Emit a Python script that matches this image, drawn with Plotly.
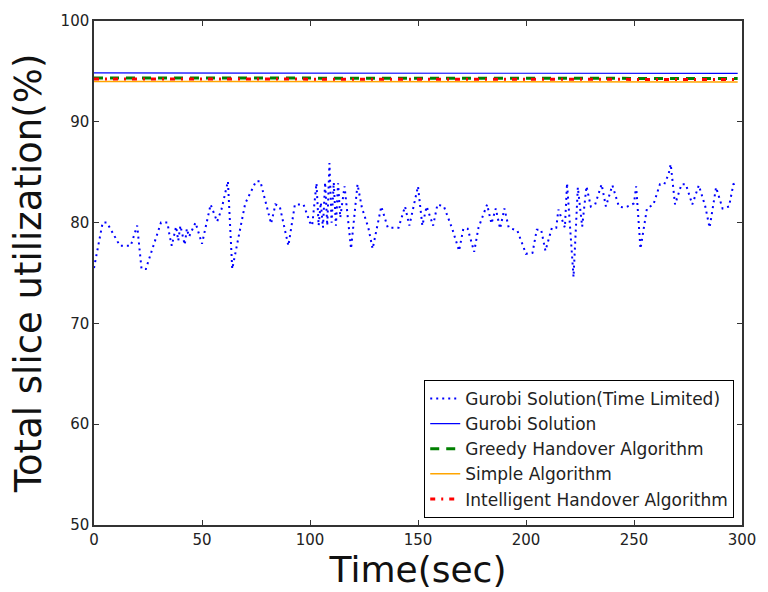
import plotly.graph_objects as go

# ---- data ----
t_limited = [0, 4, 6, 12, 17, 20, 22, 24, 31, 34, 35, 36, 38, 39, 40, 42, 43, 44, 47, 50,
             54, 57, 59, 62, 64, 70, 75, 77, 82, 84, 86, 90, 93, 97, 100, 101, 103, 104,
             105, 106, 107, 108, 109, 110, 111, 112, 113, 114, 116, 119, 122, 124, 127,
             129, 133, 136, 141, 144, 146, 150, 152, 154, 157, 159, 162, 166, 169, 171,
             173, 176, 178, 182, 184, 186, 188, 190, 192, 196, 200, 203, 205, 207, 209,
             212, 214, 215, 218, 219, 222, 224, 226, 228, 230, 232, 235, 237, 240, 243,
             245, 247, 250, 251, 253, 256, 259, 262, 264, 266, 267, 269, 272, 274, 277,
             280, 283, 285, 288, 291, 294, 296, 298]
v_limited = [75.5, 80.0, 80.0, 77.7, 77.7, 79.7, 75.4, 75.4, 80.0, 80.0, 78.7, 77.7, 79.6,
             78.2, 79.7, 77.8, 79.4, 78.6, 80.0, 77.9,
             81.8, 80.1, 81.3, 84.1, 75.4, 81.9, 84.1, 84.1, 79.9, 81.8, 81.6, 77.7, 81.8,
             81.8, 80.0, 79.7, 83.9, 79.7,
             82.0, 79.5, 84.0, 79.7, 85.9, 80.0, 84.0, 79.7, 83.9, 80.5, 83.6, 77.4, 83.8,
             81.5, 79.5,
             77.4, 81.6, 79.5, 79.5, 81.6, 79.7, 83.6, 79.7, 81.6, 79.7, 81.8, 81.6, 79.3,
             77.2, 79.4,
             79.4, 77.1, 79.5, 81.8, 79.9, 81.4, 79.4, 81.4, 79.5, 79.2, 76.9, 77.0, 79.3,
             79.3, 77.2,
             79.5, 79.5, 81.3, 79.5, 83.9, 74.6, 83.5, 79.6, 83.6, 81.6, 81.8, 83.8, 81.6,
             83.7, 81.6,
             81.5, 81.6, 81.9, 83.6, 77.4, 81.4, 81.8, 83.8, 83.8, 84.8, 85.8, 81.8, 83.8,
             83.8, 81.8,
             83.7, 81.6, 79.5, 83.5, 81.4, 81.6, 83.8, 84.0]

t_flat = [0, 50, 100, 150, 200, 250, 298]
v_gurobi = [94.85, 94.85, 94.85, 94.85, 94.8, 94.85, 94.8]
v_greedy = [94.35, 94.35, 94.35, 94.3, 94.3, 94.3, 94.3]
v_simple = [94.0, 94.0, 94.0, 93.95, 93.95, 94.0, 93.95]
v_intelligent = [94.25, 94.25, 94.25, 94.2, 94.2, 94.2, 94.2]

x_ticks = [0, 50, 100, 150, 200, 250, 300]
y_ticks = [50, 60, 70, 80, 90, 100]

names = ["Gurobi Solution(Time Limited)", "Gurobi Solution", "Greedy Handover Algorithm",
         "Simple Algorithm", "Intelligent Handover Algorithm"]

fig = go.Figure()
fig.add_trace(go.Scatter(x=t_limited, y=v_limited, mode="lines", name=names[0],
                         line=dict(color="#0000ff", width=2, dash="2px,4px")))
fig.add_trace(go.Scatter(x=t_flat, y=v_gurobi, mode="lines", name=names[1],
                         line=dict(color="#0000ff", width=1.2)))
fig.add_trace(go.Scatter(x=t_flat, y=v_greedy, mode="lines", name=names[2],
                         line=dict(color="#008000", width=3, dash="9px,7px")))
fig.add_trace(go.Scatter(x=t_flat, y=v_simple, mode="lines", name=names[3],
                         line=dict(color="#ffa500", width=1.5)))
fig.add_trace(go.Scatter(x=t_flat, y=v_intelligent, mode="lines", name=names[4],
                         line=dict(color="#ff0000", width=3, dash="5px,6px,2px,6px")))

axis_common = dict(showline=True, linecolor="#333333", linewidth=1.5, mirror="ticks",
                   ticks="inside", ticklen=5, tickwidth=1, tickcolor="#333333",
                   showgrid=False, zeroline=False,
                   tickfont=dict(family="DejaVu Sans", size=15, color="#222222"))

fig.update_layout(
    width=768, height=592,
    margin=dict(l=94, r=18, t=18, b=65),
    paper_bgcolor="white", plot_bgcolor="white",
    font=dict(family="DejaVu Sans", color="#111111"),
    xaxis=dict(range=[0, 300], tickvals=x_ticks, ticktext=[str(v) for v in x_ticks],
               title=dict(text="Time(sec)", font=dict(size=36, family="DejaVu Sans", color="#111111"),
                          standoff=6),
               **axis_common),
    yaxis=dict(range=[50, 100], tickvals=y_ticks, ticktext=[str(v) for v in y_ticks],
               title=dict(text="Total slice utilization(%)",
                          font=dict(size=37, family="DejaVu Sans", color="#111111"), standoff=8),
               **axis_common),
    legend=dict(x=0.988, y=0.014, xanchor="right", yanchor="bottom",
                bgcolor="white", bordercolor="#000000", borderwidth=1,
                font=dict(family="DejaVu Sans", size=17, color="#222222"),
                tracegroupgap=0),
    showlegend=True,
)

fig.write_html("out.html")
